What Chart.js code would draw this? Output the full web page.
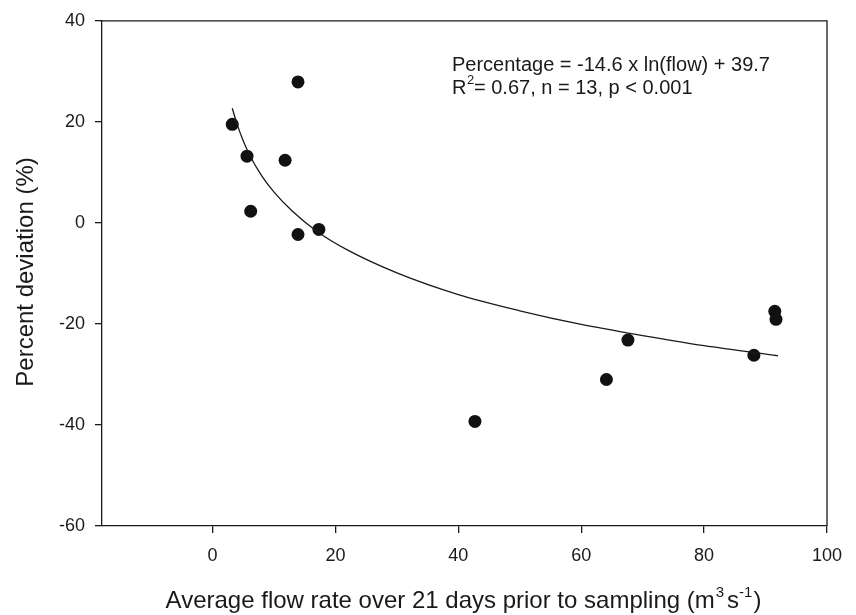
<!DOCTYPE html>
<html>
<head>
<meta charset="utf-8">
<script src="https://cdn.jsdelivr.net/npm/chart.js@4"></script>
<style>
  html, body { margin: 0; padding: 0; background: #fff; }
  #wrap { width: 856px; height: 615px; }
</style>
</head>
<body>
<div id="wrap"><canvas id="flowChart"></canvas></div>
<script>
const flowValues = [3.2, 5.6, 13.9, 11.8, 6.2, 13.9, 17.3, 42.7, 64.1, 67.6, 88.1, 91.5, 91.7];
const deviationValues = [19.5, 13.2, 27.9, 12.4, 2.3, -2.3, -1.3, -39.3, -31.0, -23.2, -26.2, -17.5, -19.1];

// Fitted curve as traced on the figure
const fitFlow = [3.2, 4, 5, 6, 8, 10, 13, 17, 22, 30, 40, 50, 60, 70, 80, 92];
const fitDeviation = [22.7, 19.5, 16.2, 13.5, 9.3, 6.1, 2.3, -1.7, -5.4, -9.9, -14.2, -17.4, -20.1, -22.3, -24.3, -26.3];

const xTicks = [0, 20, 40, 60, 80, 100];
const yTicks = [-60, -40, -20, 0, 20, 40];

const FONT = "'Liberation Sans', Arial, Helvetica, sans-serif";
const INK = '#1a1a1a';

const points = flowValues.map((x, i) => ({ x: x, y: deviationValues[i] }));
const fit = fitFlow.map((x, i) => ({ x: x, y: fitDeviation[i] }));

// frame on top/right plus titles and the equation text
const decorPlugin = {
    id: 'decor',
    afterDraw(chart) {
        const { ctx, chartArea: a } = chart;
        ctx.save();
        ctx.strokeStyle = INK;
        ctx.lineWidth = 1.3;
        ctx.beginPath();
        ctx.moveTo(a.left, a.top);
        ctx.lineTo(a.right, a.top);
        ctx.lineTo(a.right, a.bottom);
        ctx.stroke();

        ctx.fillStyle = INK;
        ctx.textBaseline = 'alphabetic';

        // equation
        ctx.font = '20px ' + FONT;
        ctx.textAlign = 'left';
        ctx.fillText('Percentage = -14.6 x ln(flow) + 39.7', 452, 71);
        let x = 452;
        ctx.fillText('R', x, 94);
        x += ctx.measureText('R').width;
        ctx.font = '13px ' + FONT;
        ctx.fillText('2', x + 0.5, 84);
        ctx.font = '20px ' + FONT;
        ctx.fillText(' = 0.67, n = 13, p < 0.001', x + 2, 94);

        // x title with superscripts
        const parts = [
            ['Average flow rate over 21 days prior to sampling (m', 24, 0, 1],
            ['3', 15, -11, 3],
            ['s', 24, 0, 0],
            ['-1', 15, -11, 1],
            [')', 24, 0, 0]
        ];
        let total = 0;
        parts.forEach(p => { ctx.font = p[1] + 'px ' + FONT; total += ctx.measureText(p[0]).width + p[3]; });
        x = (a.left + a.right) / 2 - total / 2 - 1;
        parts.forEach(p => {
            ctx.font = p[1] + 'px ' + FONT;
            ctx.fillText(p[0], x, 608 + p[2]);
            x += ctx.measureText(p[0]).width + p[3];
        });

        // y title
        ctx.translate(33, 272);
        ctx.rotate(-Math.PI / 2);
        ctx.font = '24px ' + FONT;
        ctx.textAlign = 'center';
        ctx.fillText('Percent deviation (%)', 0, 0);
        ctx.restore();
    }
};

new Chart(document.getElementById('flowChart'), {
    type: 'scatter',
    data: {
        datasets: [
            {
                data: fit,
                showLine: true,
                borderColor: INK,
                borderWidth: 1.3,
                pointRadius: 0,
                cubicInterpolationMode: 'monotone',
                fill: false
            },
            {
                data: points,
                pointRadius: 6.5,
                pointBackgroundColor: '#111',
                pointBorderColor: '#111',
                pointBorderWidth: 0
            }
        ]
    },
    options: {
        responsive: true,
        maintainAspectRatio: false,
        animation: false,
        layout: { padding: { top: 19, right: 29, left: 0, bottom: 0 } },
        plugins: {
            legend: { display: false },
            tooltip: { enabled: false }
        },
        scales: {
            x: {
                type: 'linear',
                min: -18,
                max: 100,
                afterBuildTicks: s => { s.ticks = xTicks.map(v => ({ value: v })); },
                afterFit: s => { s.height = 89; },
                border: { display: true, color: INK, width: 1.3 },
                grid: { display: true, drawOnChartArea: false, drawTicks: true, tickLength: 7, color: INK, lineWidth: 1.3 },
                ticks: { color: INK, font: { family: FONT, size: 18 }, padding: 12, maxRotation: 0 }
            },
            y: {
                type: 'linear',
                min: -60,
                max: 40,
                afterBuildTicks: s => { s.ticks = yTicks.map(v => ({ value: v })); },
                afterFit: s => { s.width = 102; },
                border: { display: true, color: INK, width: 1.3 },
                grid: { display: true, drawOnChartArea: false, drawTicks: true, tickLength: 7, color: INK, lineWidth: 1.3 },
                ticks: { color: INK, font: { family: FONT, size: 18 }, padding: 10 }
            }
        }
    },
    plugins: [decorPlugin]
});
</script>
</body>
</html>
